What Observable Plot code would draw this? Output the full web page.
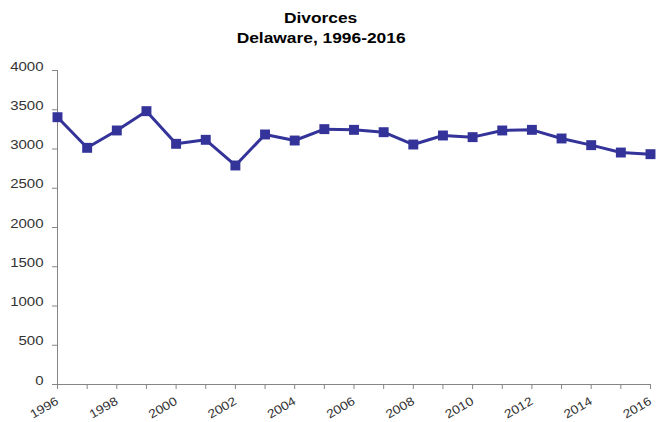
<!DOCTYPE html>
<html>
<head>
<meta charset="utf-8">
<script src="https://cdn.jsdelivr.net/npm/d3@7"></script>
<script src="https://cdn.jsdelivr.net/npm/@observablehq/plot@0.6"></script>
<style>
  body { margin: 0; background: #fff; }
  #title { height: 55px; box-sizing: border-box; padding-top: 8px; width: 642px; text-align: center;
    font: bold 14px "Liberation Sans", Arial, sans-serif; line-height: 20px; color: #000; }
  #title span { display: inline-block; transform: scaleX(1.24); transform-origin: center; }
  #chart svg { display: block; }
</style>
</head>
<body>
<div id="title"><span>Divorces</span><br><span>Delaware, 1996-2016</span></div>
<div id="chart"></div>
<script>
const years = [1996,1997,1998,1999,2000,2001,2002,2003,2004,2005,2006,2007,2008,2009,2010,2011,2012,2013,2014,2015,2016];
const divorces = [3405,3015,3236,3482,3066,3117,2790,3185,3108,3253,3244,3214,3057,3172,3151,3236,3244,3134,3049,2955,2934];
const yTicks = [0,500,1000,1500,2000,2500,3000,3500,4000];
const xLabelTicks = [1996,1998,2000,2002,2004,2006,2008,2010,2012,2014,2016];

const data = years.map((y, i) => ({year: y, value: divorces[i]}));
const lineColor = "#333399";
const axisColor = "#868686";
const labelColor = "#333";

const chart = Plot.plot({
  width: 659,
  height: 367,
  marginTop: 15,
  marginBottom: 38,
  marginLeft: 57,
  marginRight: 9,
  style: {fontFamily: '"Liberation Sans", Arial, sans-serif', fontSize: "12px", color: labelColor, background: "#fff"},
  x: {domain: [1996, 2016], axis: null},
  y: {domain: [0, 4000], axis: null},
  marks: [
    Plot.ruleX([1996], {y1: 0, y2: 4000, stroke: axisColor}),
    Plot.ruleY([0], {stroke: axisColor}),
    Plot.axisY({ticks: yTicks, tickSize: 5, text: null, stroke: axisColor, label: null}),
    Plot.axisX({ticks: years, tickSize: 5, text: null, stroke: axisColor, label: null}),
    Plot.text(yTicks, {y: d => d, text: d => String(d), frameAnchor: "left", textAnchor: "end", dx: -14, fill: labelColor}),
    Plot.text(xLabelTicks, {x: d => d, text: d => String(d), frameAnchor: "bottom", textAnchor: "end", lineAnchor: "middle", rotate: -30, dx: 2, dy: 19, fill: labelColor}),
    Plot.line(data, {x: "year", y: "value", stroke: lineColor, strokeWidth: 3}),
    Plot.dot(data, {x: "year", y: "value", symbol: "square", r: 5.6, fill: lineColor, stroke: "none"})
  ]
});
document.getElementById("chart").appendChild(chart);

// stretch tick labels horizontally along their baseline, as in the reference
chart.querySelectorAll("text").forEach(t => {
  const tr = t.getAttribute("transform") || "";
  const k = tr.includes("rotate") ? 1.15 : 1.25;
  const x = +t.getAttribute("x") || 0, y = +t.getAttribute("y") || 0;
  t.removeAttribute("x"); t.removeAttribute("y");
  t.setAttribute("transform", `${tr} translate(${x},${y}) scale(${k},1)`);
});
</script>
</body>
</html>
